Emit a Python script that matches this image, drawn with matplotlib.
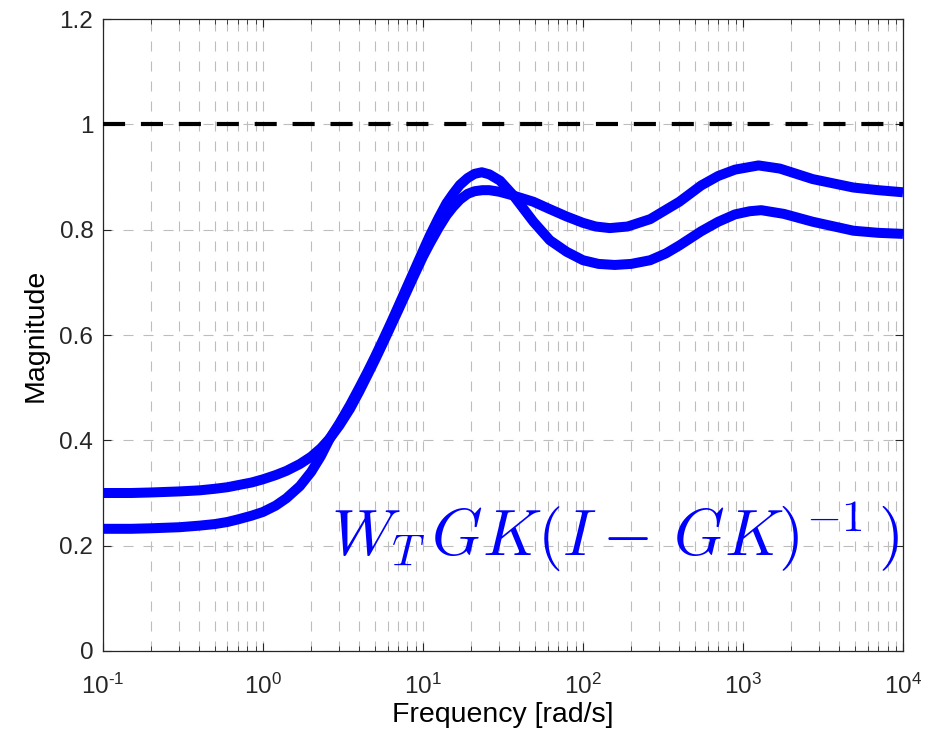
import numpy as np
import matplotlib
matplotlib.use("Agg")
import matplotlib.pyplot as plt
from matplotlib.ticker import LogLocator, NullFormatter

# Frequency points [rad/s] and magnitudes
freq_a = [0.1, 0.15, 0.2, 0.3, 0.4, 0.5, 0.6, 0.7, 0.85, 1.0, 1.2, 1.4, 1.7, 2.0, 2.3, 2.62, 3.0, 3.5,
          4.0, 4.5, 5.0, 5.65, 6.3, 7.0, 7.9, 8.8, 10.0, 11.0, 12.5, 14.0, 15.4, 17.0, 19.0, 21.0, 23.5,
          26.0, 30.0, 36.5, 49.0, 62.0, 79.0, 100.0, 120.0, 147.0, 190.0, 263.0, 400.0, 548.0, 700.0,
          891.0, 1250.0, 1700.0, 2730.0, 4900.0, 7000.0, 10000.0]
mag_a = [0.300, 0.300, 0.301, 0.303, 0.305, 0.308, 0.311, 0.315, 0.320, 0.326, 0.334, 0.342, 0.355,
         0.369, 0.385, 0.404, 0.428, 0.460, 0.493, 0.524, 0.552, 0.586, 0.617, 0.647, 0.682, 0.713,
         0.749, 0.773, 0.803, 0.827, 0.843, 0.857, 0.868, 0.873, 0.875, 0.875, 0.872, 0.865, 0.853,
         0.839, 0.825, 0.813, 0.806, 0.803, 0.806, 0.820, 0.853, 0.884, 0.902, 0.914, 0.922, 0.916,
         0.896, 0.880, 0.875, 0.871]

freq_b = [0.1, 0.15, 0.2, 0.3, 0.4, 0.5, 0.6, 0.7, 0.85, 1.0, 1.2, 1.4, 1.7, 2.0, 2.3, 2.62, 3.0, 3.5,
          4.0, 4.5, 5.0, 5.65, 6.3, 7.0, 7.9, 8.8, 10.0, 11.0, 12.5, 14.0, 15.4, 17.0, 19.0, 21.0, 23.3,
          26.0, 30.3, 36.5, 49.0, 62.0, 79.0, 100.0, 125.0, 158.0, 200.0, 263.0, 330.0, 400.0, 548.0,
          700.0, 891.0, 1100.0, 1300.0, 1800.0, 2730.0, 4900.0, 7000.0, 10000.0]
mag_b = [0.232, 0.232, 0.233, 0.235, 0.238, 0.241, 0.245, 0.250, 0.257, 0.264, 0.276, 0.290, 0.313,
         0.340, 0.370, 0.404, 0.432, 0.467, 0.500, 0.530, 0.558, 0.592, 0.623, 0.654, 0.690, 0.722,
         0.760, 0.788, 0.822, 0.850, 0.868, 0.885, 0.898, 0.906, 0.909, 0.905, 0.893, 0.866, 0.815,
         0.780, 0.758, 0.742, 0.735, 0.733, 0.735, 0.742, 0.755, 0.770, 0.797, 0.815, 0.829, 0.835,
         0.837, 0.830, 0.815, 0.798, 0.794, 0.792]

bound_freq = [0.1, 10000.0]
bound_mag = [1.0, 1.0]

x_ticks = [0.1, 1, 10, 100, 1000, 10000]
x_tick_labels = [r"$10^{\text{-1}}$", r"$10^{0}$", r"$10^{1}$", r"$10^{2}$", r"$10^{3}$", r"$10^{4}$"]
y_ticks = [0, 0.2, 0.4, 0.6, 0.8, 1.0, 1.2]
y_tick_labels = ["0", "0.2", "0.4", "0.6", "0.8", "1", "1.2"]

plt.rcParams['font.family'] = ['Liberation Sans', 'DejaVu Sans']
plt.rcParams['mathtext.fontset'] = 'custom'
plt.rcParams['mathtext.rm'] = 'Liberation Sans'
plt.rcParams['mathtext.it'] = 'Liberation Sans:italic'

axis_grey = '#262626'

fig = plt.figure(figsize=(9.38, 7.37), dpi=100)
ax = fig.add_axes([0.1098, 0.1167, 0.8529, 0.8575])

# Curves and the unity bound
ax.plot(freq_a, mag_a, color='#0000ff', linewidth=7.2, solid_capstyle='butt',
        solid_joinstyle='round', zorder=3)
ax.plot(freq_b, mag_b, color='#0000ff', linewidth=7.2, solid_capstyle='butt',
        solid_joinstyle='round', zorder=3)
ax.plot(bound_freq, bound_mag, color='black', linewidth=3, linestyle=(0, (5.3, 3.8)), zorder=3)

ax.set_xscale('log')
ax.set_xlim(0.1, 1e4)
ax.set_ylim(0, 1.2)
ax.set_xticks(x_ticks)
ax.set_xticklabels(x_tick_labels)
ax.set_yticks(y_ticks)
ax.set_yticklabels(y_tick_labels)
ax.xaxis.set_minor_locator(LogLocator(base=10, subs=np.arange(2, 10), numticks=20))
ax.xaxis.set_minor_formatter(NullFormatter())

# MATLAB-like grid: dashed, light grey, minor lines on the log axis
ax.grid(True, which='major', axis='both', color='#bdbdbd', linewidth=0.8, linestyle=(0, (9, 9)), zorder=1)
ax.grid(True, which='minor', axis='x', color='#bdbdbd', linewidth=0.8, linestyle=(0, (9, 9)), zorder=1)

ax.tick_params(which='both', direction='in', top=True, right=True, colors=axis_grey, labelsize=17.5)
ax.tick_params(which='major', length=6, width=0.8)
ax.tick_params(which='minor', length=3.5, width=0.6)
ax.tick_params(axis='x', which='major', pad=16)
ax.tick_params(axis='y', which='major', pad=7)
for spine in ax.spines.values():
    spine.set_color(axis_grey)
    spine.set_linewidth(0.9)

ax.set_xlabel("Frequency [rad/s]", fontsize=20.5, color='black')
ax.set_ylabel("Magnitude", fontsize=20.5, color='black')
ax.xaxis.set_label_coords(0.5, -0.081)
ax.yaxis.set_label_coords(-0.0675, 0.5)

ax.text(0.285, 0.150, r"$W_T\,GK(I-\,GK)^{-1}\,)$", transform=ax.transAxes, color='#0000ff',
        fontsize=46.5, math_fontfamily='cm', ha='left', va='baseline', zorder=4)

plt.savefig("out.png", dpi=100)
plt.close()
